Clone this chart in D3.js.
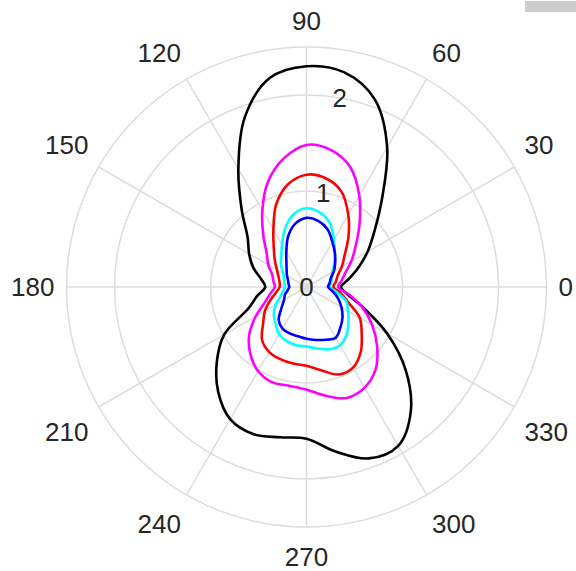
<!DOCTYPE html>
<html>
<head>
<meta charset="utf-8">
<script src="https://cdn.jsdelivr.net/npm/d3@7"></script>
<style>
  html, body { margin: 0; padding: 0; background: #fff; }
  svg { display: block; }
</style>
</head>
<body>
<svg id="chart" width="576" height="571"></svg>
<script>
// ---- data (angles in degrees, radius in data units) ----
const thetaDeg = [0,10,20,30,40,50,60,70,80,90,100,110,120,130,140,150,160,170,
                  180,190,200,210,220,230,240,250,260,270,280,290,300,310,320,330,340,350];
const rBlack   = [0.36,0.44,0.57,0.735,0.93,1.23,1.68,2.08,2.27,2.30,2.21,1.88,1.42,1.05,0.80,0.69,0.59,0.48,
                  0.43,0.52,0.64,0.99,1.22,1.43,1.59,1.63,1.59,1.58,1.74,1.90,1.91,1.69,1.35,0.97,0.63,0.43];
const rMagenta = [0.33,0.37,0.43,0.54,0.67,0.86,1.10,1.33,1.45,1.48,1.36,1.17,0.92,0.70,0.54,0.46,0.38,0.35,
                  0.33,0.38,0.46,0.61,0.78,0.91,1.01,1.055,1.045,1.07,1.15,1.23,1.21,1.12,0.96,0.79,0.62,0.45];
const rRed     = [0.28,0.31,0.345,0.425,0.52,0.68,0.87,1.06,1.15,1.17,1.09,0.92,0.69,0.53,0.43,0.355,0.31,0.285,
                  0.28,0.32,0.40,0.50,0.59,0.72,0.78,0.80,0.81,0.82,0.88,0.97,0.97,0.88,0.75,0.64,0.46,0.36];
const rCyan    = [0.245,0.26,0.28,0.31,0.38,0.46,0.57,0.71,0.79,0.82,0.77,0.65,0.51,0.41,0.345,0.28,0.25,0.235,
                  0.225,0.25,0.29,0.37,0.445,0.50,0.57,0.60,0.615,0.62,0.65,0.69,0.70,0.65,0.57,0.50,0.44,0.32];
const rBlue    = [0.225,0.245,0.27,0.33,0.39,0.46,0.54,0.64,0.70,0.72,0.67,0.56,0.42,0.325,0.27,0.235,0.205,0.19,
                  0.18,0.20,0.24,0.27,0.34,0.45,0.50,0.515,0.52,0.54,0.56,0.585,0.61,0.55,0.49,0.42,0.35,0.28];

const seriesNames  = ["black","magenta","red","cyan","blue"];
const seriesColors = ["#000000","#ff00ff","#ff0000","#00ffff","#0000ff"];
const seriesValues = [rBlack, rMagenta, rRed, rCyan, rBlue];

const thetaTicks = [0,30,60,90,120,150,180,210,240,270,300,330];
const rTicks = [0,1,2];
const rMax = 2.5;
const rTickAngle = 80;

// ---- layout ----
const svg = d3.select("#chart");
const cx = 306.5, cy = 287, R = 240;
const r = d3.scaleLinear().domain([0, rMax]).range([0, R]);
const toRad = d => d * Math.PI / 180;
const g = svg.append("g").attr("transform", `translate(${cx},${cy})`);

const gridColor = "#dcdcdc";
const textColor = "#262626";
const font = "'Liberation Sans', Arial, Helvetica, sans-serif";

// spokes
g.selectAll("line.spoke").data(thetaTicks).enter().append("line")
  .attr("class","spoke")
  .attr("x1",0).attr("y1",0)
  .attr("x2", d => r(rMax) * Math.cos(toRad(d)))
  .attr("y2", d => -r(rMax) * Math.sin(toRad(d)))
  .attr("stroke", gridColor).attr("stroke-width", 1.5);

// rings
g.selectAll("circle.ring").data(rTicks.filter(v => v > 0).concat([rMax])).enter().append("circle")
  .attr("class","ring")
  .attr("r", d => r(d))
  .attr("fill","none").attr("stroke", gridColor).attr("stroke-width", 1.5);

// curves
const line = d3.lineRadial()
  .angle(d => Math.PI/2 - toRad(d[0]))
  .radius(d => r(d[1]))
  .curve(d3.curveCatmullRomClosed.alpha(0.5));

seriesValues.forEach((vals, i) => {
  const pts = thetaDeg.map((t, j) => [t, vals[j]]);
  g.append("path")
    .attr("d", line(pts))
    .attr("fill","none")
    .attr("stroke", seriesColors[i])
    .attr("stroke-width", 2.6)
    .attr("stroke-linejoin","round");
});

// theta labels
const fs = 26;
const digitH = 0.72 * fs;
const labelRho = R + 13;
g.selectAll("text.tl").data(thetaTicks).enter().append("text")
  .attr("class","tl")
  .each(function(d) {
    const a = toRad(d);
    const c = Math.cos(a), s = Math.sin(a);
    const ax = labelRho * c, ay = -labelRho * s;
    let anchor = "middle";
    if (c > 0.01) anchor = "start";
    else if (c < -0.01) anchor = "end";
    let dyc = 0;
    if (s > 0.01) dyc = (d === 90 ? -13 : -15.5);
    else if (s < -0.01) dyc = (d === 270 ? 17 : 18);
    const xOff = anchor === "start" ? -1 : (anchor === "end" ? 1 : 0);
    d3.select(this)
      .attr("x", ax + xOff)
      .attr("y", ay + dyc + digitH / 2)
      .attr("text-anchor", anchor);
  })
  .attr("font-family", font).attr("font-size", fs).attr("fill", textColor)
  .text(d => d);

// r labels
g.selectAll("text.rl").data(rTicks).enter().append("text")
  .attr("class","rl")
  .attr("x", d => r(d) * Math.cos(toRad(rTickAngle)))
  .attr("y", d => -r(d) * Math.sin(toRad(rTickAngle)) + digitH / 2)
  .attr("text-anchor","middle")
  .attr("font-family", font).attr("font-size", fs).attr("fill", textColor)
  .text(d => d);

// toolbar placeholder rectangle (top-right)
svg.append("rect").attr("x", 525).attr("y", 1).attr("width", 51).attr("height", 11)
  .attr("fill", "#cdcdcd");
</script>
</body>
</html>
